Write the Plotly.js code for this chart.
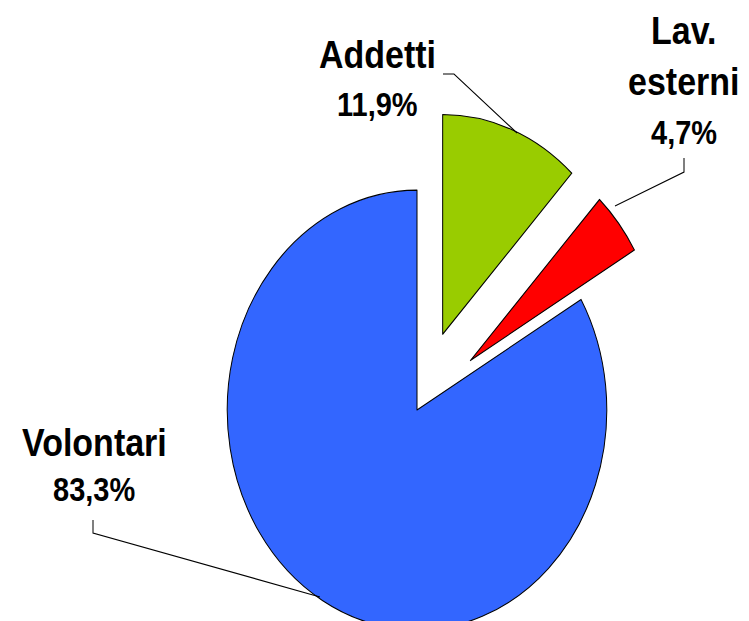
<!DOCTYPE html>
<html>
<head>
<meta charset="utf-8">
<script src="https://cdn.plot.ly/plotly-3.0.1.min.js"></script>
<style>
  html, body { margin: 0; padding: 0; background: #fff; overflow: hidden; width: 749px; height: 621px; }
  #chart { width: 749px; height: 640px; transform: scaleY(1.158); transform-origin: 0 0; }
</style>
</head>
<body>
<div id="chart"></div>
<script>
// Data
const categories = ["Addetti", "Lav.<br>esterni", "Volontari"];
const shares = [11.9, 4.7, 83.3];
const shareLabels = ["11,9%", "4,7%", "83,3%"];
const sliceColors = ["#99CC00", "#FF0000", "#3366FF"];
const pulls = [0.37, 0.36, 0];

// Layout helpers (reference pixel -> paper, accounting for vertical stretch)
const W = 749, H = 640, S = 1.158;
const px = x => x / W;
const py = y => 1 - (y / S) / H;

const trace = {
  type: "pie",
  labels: categories,
  values: shares,
  sort: false,
  direction: "clockwise",
  rotation: 0,
  pull: pulls,
  textinfo: "none",
  hoverinfo: "skip",
  marker: { colors: sliceColors, line: { color: "#000", width: 1 } },
  domain: { x: [157 / W, 677 / W], y: [26 / H, 546 / H] },
  showlegend: false
};

const nameFont = { family: "Liberation Sans, Arial, sans-serif", size: 34, color: "#000", weight: 700 };
const pctFont = { family: "Liberation Sans, Arial, sans-serif", size: 29, color: "#000", weight: 700 };

const namePos = [[378, 55], [684, 56], [94, 442]];
const pctPos = [[378, 104], [684, 132], [94, 490]];

const annotations = [];
categories.forEach((c, i) => {
  annotations.push({ text: "<b>" + c + "</b>", x: px(namePos[i][0]), y: py(namePos[i][1]),
    xref: "paper", yref: "paper", showarrow: false, font: nameFont, xanchor: "center", yanchor: "middle" });
  annotations.push({ text: "<b>" + shareLabels[i] + "</b>", x: px(pctPos[i][0]), y: py(pctPos[i][1]),
    xref: "paper", yref: "paper", showarrow: false, font: pctFont, xanchor: "center", yanchor: "middle" });
});

function leader(pts) {
  return {
    type: "path", xref: "paper", yref: "paper",
    path: pts.map((p, k) => (k ? "L" : "M") + px(p[0]) + "," + py(p[1])).join(" "),
    line: { color: "#000", width: 1 }
  };
}
const shapes = [
  leader([[443, 74], [454, 74], [517, 133]]),
  leader([[684, 158], [684, 172], [615, 206]]),
  leader([[93, 520], [93, 533], [320, 597]])
];

const layout = {
  width: W, height: H,
  margin: { l: 0, r: 0, t: 0, b: 0, pad: 0 },
  paper_bgcolor: "#fff",
  plot_bgcolor: "#fff",
  showlegend: false,
  annotations: annotations,
  shapes: shapes
};

Plotly.newPlot("chart", [trace], layout, { displayModeBar: false, staticPlot: true });
</script>
</body>
</html>
